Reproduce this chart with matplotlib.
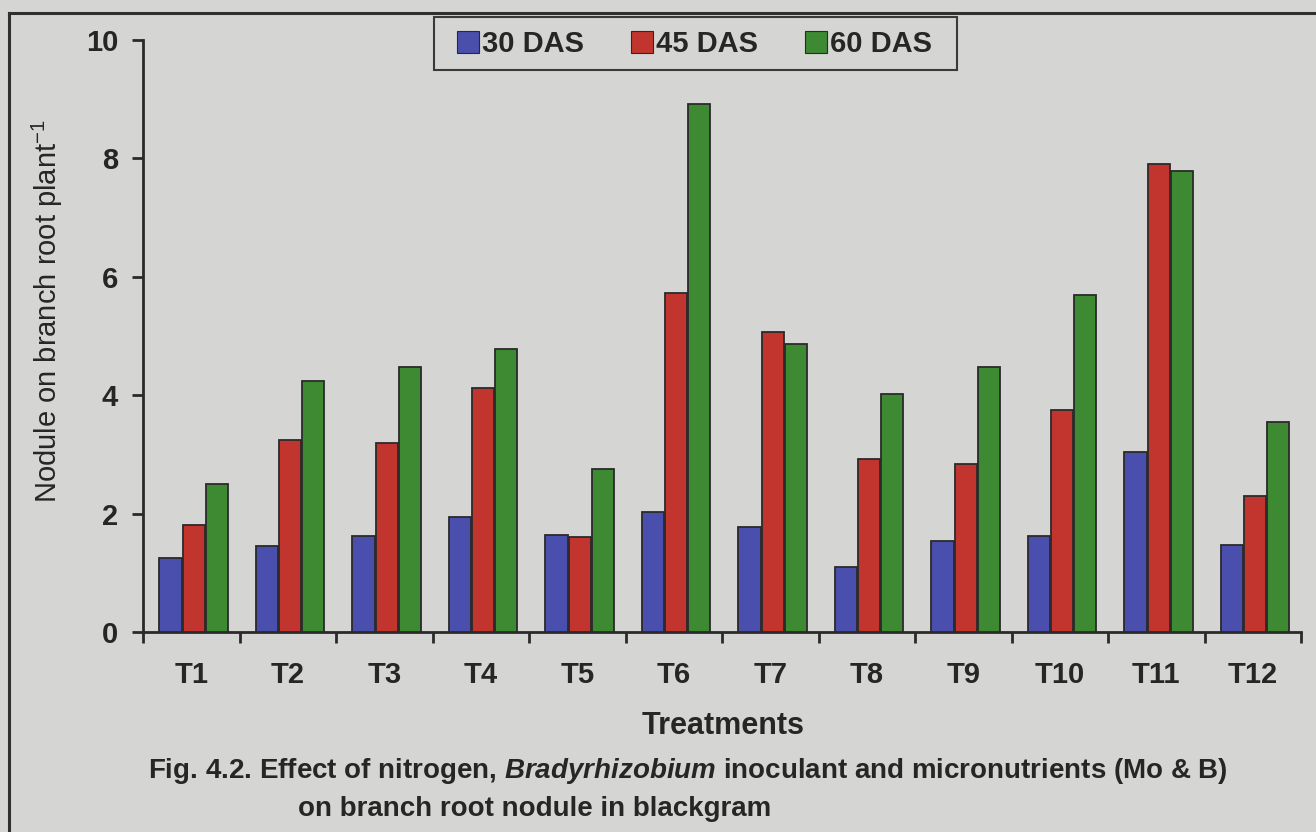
import matplotlib
matplotlib.use("Agg")
import matplotlib.pyplot as plt
import numpy as np
from matplotlib.lines import Line2D
from matplotlib.patches import Patch, Rectangle

treatments = ["T1", "T2", "T3", "T4", "T5", "T6", "T7", "T8", "T9", "T10", "T11", "T12"]
das30 = [1.25, 1.45, 1.62, 1.94, 1.64, 2.02, 1.77, 1.09, 1.54, 1.63, 3.04, 1.47]
das45 = [1.81, 3.25, 3.20, 4.12, 1.60, 5.73, 5.07, 2.93, 2.84, 3.75, 7.90, 2.30]
das60 = [2.50, 4.24, 4.48, 4.78, 2.75, 8.92, 4.86, 4.02, 4.48, 5.70, 7.79, 3.54]
series_names = ["30 DAS", "45 DAS", "60 DAS"]
yticks = [0, 2, 4, 6, 8, 10]

bg = "#d5d5d3"
colors = ["#4a4fae", "#c2352e", "#3e8a33"]
edge = "#2a2a2a"
txt = "#262626"

plt.rcParams["font.family"] = ["Liberation Sans", "DejaVu Sans"]
plt.rcParams["mathtext.fontset"] = "custom"
plt.rcParams["mathtext.rm"] = "Liberation Sans"
plt.rcParams["mathtext.it"] = "Liberation Sans:italic:bold"
plt.rcParams["mathtext.bf"] = "Liberation Sans:bold"

W, H = 1316, 832
fig = plt.figure(figsize=(W / 100, H / 100), dpi=100, facecolor=bg)
ax = fig.add_axes([143 / W, 1 - 632 / H, (1301 - 143) / W, (632 - 40) / H])
ax.set_facecolor(bg)

x = np.arange(len(treatments))
w = 0.23
step = 0.24
for k, vals in enumerate([das30, das45, das60]):
    ax.bar(x + (k - 1) * step + 0.025, vals, width=w, color=colors[k],
           edgecolor=edge, linewidth=1.3, zorder=3)

ax.set_xlim(-0.5, len(treatments) - 0.5)
ax.set_ylim(0, 10)
ax.set_yticks(yticks)
ax.set_yticklabels([str(t) for t in yticks], fontsize=21, fontweight="bold", color=txt)
ax.set_xticks(x)
ax.set_xticklabels(treatments, fontsize=21, fontweight="bold", color=txt)
ax.set_xticks(np.arange(-0.5, len(treatments)), minor=True)
ax.tick_params(axis="x", which="major", length=0, pad=21)
ax.tick_params(axis="x", which="minor", length=8, width=2, color=edge, direction="out")
ax.tick_params(axis="y", length=8, width=2, color=edge, direction="out", pad=10)
for s in ["top", "right"]:
    ax.spines[s].set_visible(False)
for s in ["left", "bottom"]:
    ax.spines[s].set_linewidth(2)
    ax.spines[s].set_color(edge)

ax.set_ylabel("Nodule on branch root plant$^{\\mathregular{-1}}$", fontsize=21,
              color=txt)
ax.yaxis.set_label_coords(-0.067, 0.542)

# legend entries, with a separate rectangular box around them
fig.add_artist(Rectangle((434 / W, 1 - 70 / H), (957 - 434) / W, (70 - 17) / H,
                         transform=fig.transFigure, facecolor=bg,
                         edgecolor="#3a3a3a", linewidth=1.5, zorder=3))
handles = [Patch(facecolor=colors[k], edgecolor=edge, linewidth=0.8) for k in range(3)]
leg = fig.legend(handles, series_names, loc="center left",
                 bbox_to_anchor=(457 / W, 1 - 44 / H), ncol=3,
                 prop={"size": 21, "weight": "bold"}, frameon=False,
                 handlelength=0.75, handleheight=0.75, handletextpad=0.12,
                 columnspacing=1.6, borderpad=0.0, borderaxespad=0.0,
                 labelcolor=txt)
leg.set_zorder(4)

fig.text(723 / W, 1 - 726 / H, "Treatments", ha="center", va="center",
         fontsize=22, fontweight="bold", color=txt)

fig.text(148 / W, 1 - 771 / H,
         "Fig. 4.2. Effect of nitrogen, $\\mathit{Bradyrhizobium}$ inoculant and micronutrients (Mo & B)",
         ha="left", va="center", fontsize=20, fontweight="bold", color=txt)
fig.text(298 / W, 1 - 809 / H, "on branch root nodule in blackgram",
         ha="left", va="center", fontsize=20, fontweight="bold", color=txt)

# outer frame lines
fig.add_artist(Line2D([9 / W, 9 / W], [0, 1 - 13 / H], transform=fig.transFigure,
                      color="#303030", linewidth=2.2))
fig.add_artist(Line2D([9 / W, 1], [1 - 13 / H, 1 - 13 / H], transform=fig.transFigure,
                      color="#303030", linewidth=2.2))

fig.savefig("out.png", dpi=100, facecolor=bg)
